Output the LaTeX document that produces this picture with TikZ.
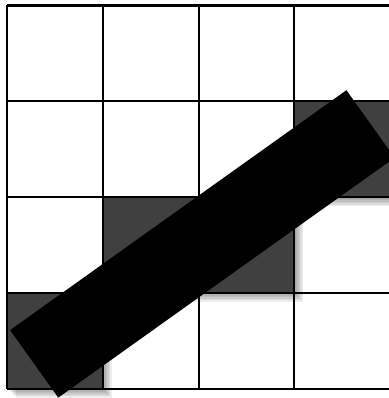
\documentclass[tikz,border=0pt]{standalone}
\usepackage{tikz}

\begin{document}
\begin{tikzpicture}[
    gridline/.style={draw=black, line width=0.6pt},
    pixel/.style={fill=black!75},
    pixelshadow/.style={fill=black, opacity=0.07},
    bar/.style={fill=black}
]
\useasboundingbox (-0.073,-0.099) rectangle (3.985,4.057);
% soft shadows under the filled cells
\foreach \x/\y in {0/0, 1/1, 2/1, 3/2} {
    \foreach \s in {1,...,6}
        \fill[pixelshadow] ([shift={(\s*0.016,-\s*0.016)}]\x,\y) rectangle ++(1,1);
}
% filled cells
\foreach \x/\y in {0/0, 1/1, 2/1, 3/2}
    \fill[pixel] (\x,\y) rectangle ++(1,1);
% grid
\draw[gridline] (0,0) grid (4,4);
% the thick line
\fill[bar, rotate around={35.5:(2.04,1.51)}]
    (2.04-2.157,1.51-0.433) rectangle (2.04+2.157,1.51+0.433);
\end{tikzpicture}
\end{document}
